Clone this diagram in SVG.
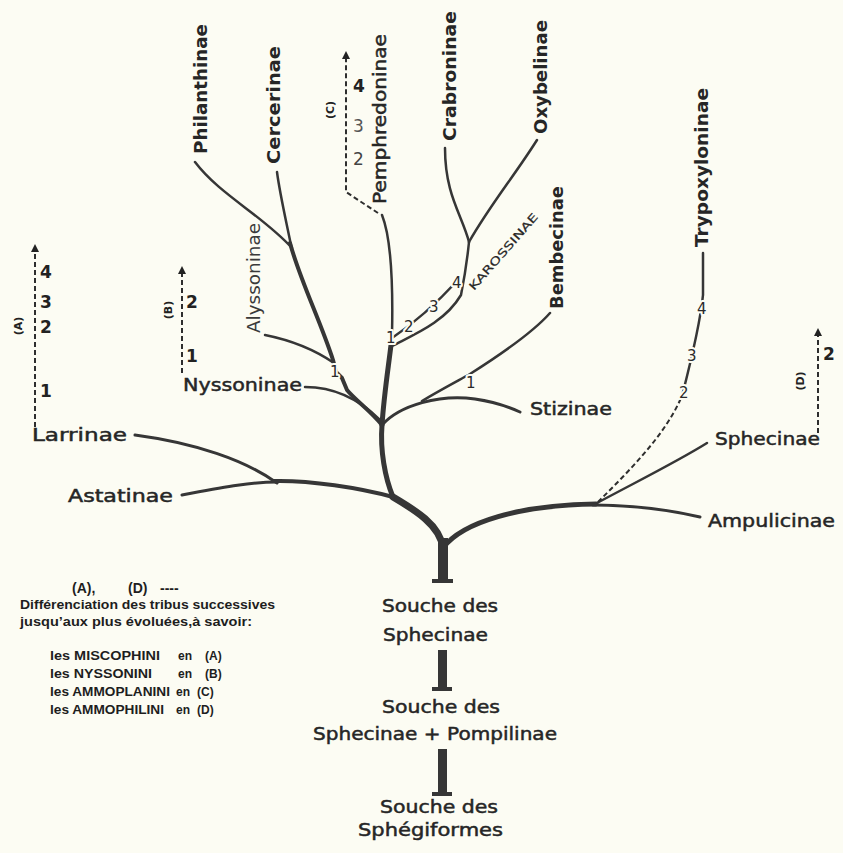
<svg xmlns="http://www.w3.org/2000/svg" width="843" height="853" viewBox="0 0 843 853">
<defs>
<style>
.bg{fill:#fcfcf3}
.br{fill:none;stroke:#363636;stroke-linecap:round;stroke-linejoin:round}
.dash{fill:none;stroke:#2e2e2e;stroke-width:2;stroke-dasharray:5,3}
.lab{font-family:"DejaVu Sans",sans-serif;fill:#262626;font-size:18px;stroke:#262626;stroke-width:0.5}
.b{font-weight:bold;stroke-width:0}
.n{font-family:"DejaVu Sans",sans-serif;fill:#2a2a2a;font-size:15px;stroke:#fcfcf3;stroke-width:4;paint-order:stroke;stroke-linejoin:round}
.an{font-family:"DejaVu Sans",sans-serif;fill:#222;font-size:17px;font-weight:bold}
.tag{font-family:"DejaVu Sans",sans-serif;fill:#222;font-size:11px;font-weight:bold;text-anchor:middle}
.leg{font-family:"Liberation Sans",sans-serif;fill:#1e1e1e;font-size:12px;font-weight:bold}
.stem{fill:#363636}
</style>
<marker id="ah" viewBox="0 0 10 10" refX="5" refY="5" markerWidth="4" markerHeight="4" orient="auto-start-reverse">
<path d="M0,0 L10,5 L0,10 z" fill="#222"/>
</marker>
</defs>
<rect class="bg" x="0" y="0" width="843" height="853"/>

<g id="connectors">
<path class="br" stroke-width="7" d="M443,548 C440,525 415,510 393,497"/>
<path class="br" stroke-width="5" d="M393,497 C385,478 380,450 382,425"/>
<path class="br" stroke-width="5" d="M443,548 C462,522 520,505 596,504"/>
<path class="br" stroke-width="4" d="M393,497 C360,488 310,480 273,481"/>
<path class="br" stroke-width="3" d="M277,483 C245,460 195,443 135,435"/>
<path class="br" stroke-width="3" d="M182,495 C220,488 250,482 277,482"/>
<path class="br" stroke-width="3" d="M593,505 C630,505 670,510 700,517"/>
<path class="br" stroke-width="2.5" d="M597,503 C640,480 680,460 707,443"/>
<path class="dash" stroke-width="2.5" d="M598,502 C630,470 665,435 681,398"/>
<path class="br" stroke-width="2.5" d="M682,396 C690,365 700,325 703,295 L703,253"/>
<path class="br" stroke-width="5" d="M382,425 C384,395 388,370 391,345"/>
<path class="br" stroke-width="2.5" d="M392,335 C393,290 392,240 382,215"/>
<path class="br" stroke-width="2.5" d="M392,338 C410,326 435,305 458,280"/>
<path class="br" stroke-width="2.5" d="M392,346 C415,334 445,322 461,295 C464,280 467,262 469,242"/>
<path class="br" stroke-width="2.5" d="M469,242 C462,215 445,195 445,148"/>
<path class="br" stroke-width="2.5" d="M469,242 C490,205 515,175 537,140"/>
<path class="br" stroke-width="3" d="M382,425 C400,405 440,394 475,399 C495,402 507,406 520,412"/>
<path class="br" stroke-width="2.5" d="M550,313 C535,330 500,355 470,374 C450,385 435,393 422,401"/>
<path class="br" stroke-width="4" d="M382,425 C370,410 355,400 347,390 L342,378 L336,372 L333,360 C320,320 300,280 290,243"/>
<path class="br" stroke-width="2.5" d="M292,250 C286,220 280,195 277,172"/>
<path class="br" stroke-width="2.5" d="M195,162 C220,195 262,215 292,248"/>
<path class="br" stroke-width="2.5" d="M265,335 C290,340 315,350 334,363"/>
<path class="br" stroke-width="2.5" d="M305,387 C330,387 355,395 380,420"/>
<rect class="stem" x="438" y="538" width="10" height="44"/>
<rect class="stem" x="432" y="579" width="21" height="4"/>
<rect class="stem" x="438" y="650" width="9" height="40"/>
<rect class="stem" x="432" y="687" width="20" height="4"/>
<rect class="stem" x="438" y="749" width="9" height="46"/>
<rect class="stem" x="432" y="792" width="20" height="4"/>
<path class="dash" marker-end="url(#ah)" d="M35,427 L35,248"/>
<path class="dash" marker-end="url(#ah)" d="M182,373 L182,270"/>
<path class="dash" marker-end="url(#ah)" d="M378,213 L346,192 L346,55"/>
<path class="dash" marker-end="url(#ah)" d="M818,433 L818,332"/>
</g>

<g id="numbers">
<text class="n" x="386" y="343">1</text>
<text class="n" x="404" y="332">2</text>
<text class="n" x="429" y="312">3</text>
<text class="n" x="452" y="288">4</text>
<text class="n" x="466" y="388">1</text>
<text class="n" x="330" y="377">1</text>
<text class="n" x="679" y="398">2</text>
<text class="n" x="687" y="361">3</text>
<text class="n" x="697" y="314">4</text>
</g>

<g id="arrowA">
<text class="an" x="40" y="278">4</text>
<text class="an" x="40" y="308">3</text>
<text class="an" x="40" y="333">2</text>
<text class="an" x="40" y="397">1</text>
<text class="tag" transform="translate(22,326) rotate(-90)">(A)</text>
</g>
<g id="arrowB">
<text class="an" x="186" y="308">2</text>
<text class="an" x="186" y="362">1</text>
<text class="tag" transform="translate(172,310) rotate(-90)">(B)</text>
</g>
<g id="arrowC">
<text class="an" x="353" y="92">4</text>
<text class="an" x="353" y="132" style="font-weight:normal;fill:#555">3</text>
<text class="an" x="353" y="165" style="font-weight:normal;fill:#444">2</text>
<text class="tag" transform="translate(334,110) rotate(-90)">(C)</text>
</g>
<g id="arrowD">
<text class="an" x="823" y="360">2</text>
<text class="tag" transform="translate(804,381) rotate(-90)">(D)</text>
</g>

<g id="n-philanthinae"><text class="lab b" transform="translate(207,154) rotate(-90)" textLength="130" lengthAdjust="spacingAndGlyphs">Philanthinae</text></g>
<g id="n-cercerinae"><text class="lab b" transform="translate(280,164) rotate(-90)" textLength="118" lengthAdjust="spacingAndGlyphs">Cercerinae</text></g>
<g id="n-pemphredoninae"><text class="lab" transform="translate(386,204) rotate(-90)" textLength="170" lengthAdjust="spacingAndGlyphs">Pemphredoninae</text></g>
<g id="n-crabroninae"><text class="lab b" transform="translate(456,141) rotate(-90)" textLength="130" lengthAdjust="spacingAndGlyphs">Crabroninae</text></g>
<g id="n-oxybelinae"><text class="lab b" transform="translate(547,134) rotate(-90)" textLength="114" lengthAdjust="spacingAndGlyphs">Oxybelinae</text></g>
<g id="n-bembecinae"><text class="lab b" transform="translate(563,309) rotate(-90)" textLength="123" lengthAdjust="spacingAndGlyphs">Bembecinae</text></g>
<g id="n-trypoxyloninae"><text class="lab b" transform="translate(708,247) rotate(-90)" textLength="159" lengthAdjust="spacingAndGlyphs">Trypoxyloninae</text></g>
<g id="n-alyssoninae"><text class="lab" style="font-size:17px;fill:#3a3a3a;stroke-width:0" transform="translate(260,333) rotate(-90)" textLength="110" lengthAdjust="spacingAndGlyphs">Alyssoninae</text></g>
<g id="n-karossinae"><text class="lab" style="font-size:11px;stroke-width:0.2" transform="translate(474,291) rotate(-48.7)" textLength="98" lengthAdjust="spacingAndGlyphs">KAROSSINAE</text></g>

<g id="n-nyssoninae"><text class="lab" x="183" y="391" textLength="119" lengthAdjust="spacingAndGlyphs">Nyssoninae</text></g>
<g id="n-larrinae"><text class="lab" x="32" y="441" textLength="95" lengthAdjust="spacingAndGlyphs">Larrinae</text></g>
<g id="n-astatinae"><text class="lab" x="68" y="502" textLength="105" lengthAdjust="spacingAndGlyphs">Astatinae</text></g>
<g id="n-stizinae"><text class="lab" x="530" y="415" textLength="82" lengthAdjust="spacingAndGlyphs">Stizinae</text></g>
<g id="n-sphecinae"><text class="lab" x="715" y="445" textLength="105" lengthAdjust="spacingAndGlyphs">Sphecinae</text></g>
<g id="n-ampulicinae"><text class="lab" x="708" y="527" textLength="127" lengthAdjust="spacingAndGlyphs">Ampulicinae</text></g>

<g id="n-souche-sphecinae">
<text class="lab" x="382" y="612" textLength="116" lengthAdjust="spacingAndGlyphs">Souche des</text>
<text class="lab" x="383" y="641" textLength="105" lengthAdjust="spacingAndGlyphs">Sphecinae</text>
</g>
<g id="n-souche-pompilinae">
<text class="lab" x="382" y="713" textLength="118" lengthAdjust="spacingAndGlyphs">Souche des</text>
<text class="lab" x="313" y="740" textLength="244" lengthAdjust="spacingAndGlyphs">Sphecinae + Pompilinae</text>
</g>
<g id="n-souche-sphegiformes">
<text class="lab" x="380" y="813" textLength="118" lengthAdjust="spacingAndGlyphs">Souche des</text>
<text class="lab" x="358" y="836" textLength="145" lengthAdjust="spacingAndGlyphs">Sphégiformes</text>
</g>

<g id="legend">
<text class="leg" x="72" y="593" style="font-size:14px">(A),</text>
<text class="leg" x="128" y="593" style="font-size:14px">(D)</text>
<text class="leg" x="160" y="593" style="font-size:14px">----</text>
<text class="leg" x="20" y="609" textLength="255" lengthAdjust="spacingAndGlyphs">Différenciation des tribus successives</text>
<text class="leg" x="20" y="626" textLength="232" lengthAdjust="spacingAndGlyphs">jusqu’aux plus évoluées,à savoir:</text>
<text class="leg" x="50" y="660" textLength="110" lengthAdjust="spacingAndGlyphs">les MISCOPHINI</text>
<text class="leg" x="178" y="660">en</text><text class="leg" x="205" y="660">(A)</text>
<text class="leg" x="50" y="678" textLength="102" lengthAdjust="spacingAndGlyphs">les NYSSONINI</text>
<text class="leg" x="178" y="678">en</text><text class="leg" x="205" y="678">(B)</text>
<text class="leg" x="50" y="696" textLength="120" lengthAdjust="spacingAndGlyphs">les AMMOPLANINI</text>
<text class="leg" x="176" y="696">en</text><text class="leg" x="197" y="696">(C)</text>
<text class="leg" x="50" y="714" textLength="114" lengthAdjust="spacingAndGlyphs">les AMMOPHILINI</text>
<text class="leg" x="176" y="714">en</text><text class="leg" x="197" y="714">(D)</text>
</g>
</svg>
